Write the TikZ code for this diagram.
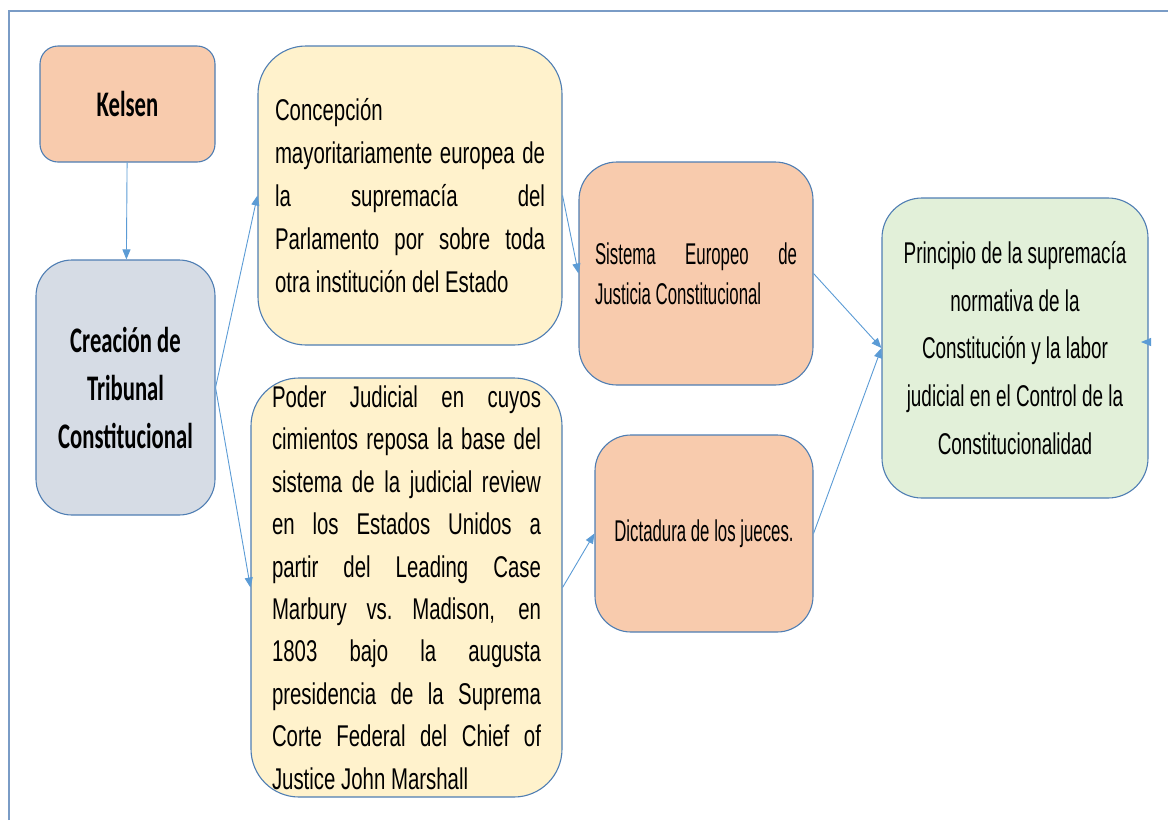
\documentclass[tikz,border=0pt]{standalone}
\usepackage{fontspec}
\usetikzlibrary{arrows.meta}

\newfontfamily\kfont[FakeStretch=0.63]{Carlito}
\newfontfamily\yfont[FakeStretch=0.68]{Liberation Sans}
\newfontfamily\ofont[FakeStretch=0.56]{Liberation Sans}
\newfontfamily\gfont[FakeStretch=0.63]{Liberation Sans}

\definecolor{peach}{HTML}{F8CBAD}
\definecolor{slate}{HTML}{D6DCE5}
\definecolor{cream}{HTML}{FFF2CC}
\definecolor{mint}{HTML}{E2F0D9}
\definecolor{edgecol}{HTML}{4F7EB3}
\definecolor{linkcol}{HTML}{5B9BD5}
\definecolor{framecol}{HTML}{7A9CC6}

\pretolerance=10000
\hbadness=10000

\begin{document}
\begin{tikzpicture}[x=1pt,y=-1pt,
  box/.style={draw=edgecol, line width=1.1pt, rectangle, inner sep=0pt, text=black},
  arr/.style={draw=linkcol, line width=0.9pt, -{Triangle[length=10pt,width=8pt]}}]
\useasboundingbox (0,0) rectangle (1168,820);
\draw[framecol, line width=1.5pt] (9,820) -- (9,11) -- (1168,11);

\node[box, fill=peach, rounded corners=18pt, minimum width=175pt, minimum height=116pt,
  font=\kfont\bfseries\fontsize{36}{48}\selectfont] (kel) at (127.5,104) {Kelsen};
\node[box, fill=slate, rounded corners=36pt, minimum width=179pt, minimum height=255pt,
  text width=179pt, align=flush center, font=\kfont\bfseries\fontsize{36}{48}\selectfont] (cre) at (125.5,387.5)
  {Creación de\\ Tribunal\\ Constitucional};

\node[box, fill=cream, rounded corners=48pt, minimum width=304pt, minimum height=299pt,
  text width=270pt, align=justify, font=\yfont\fontsize{30}{42.8}\selectfont] (con) at (410,195.5)
  {Concepción\newline mayoritariamente europea de\linebreak la supremacía del\linebreak
   Parlamento por sobre toda\linebreak otra institución del Estado};
\node[box, fill=cream, rounded corners=48pt, minimum width=311pt, minimum height=419pt,
  text width=269pt, align=justify, font=\yfont\fontsize{30}{42.4}\selectfont] (pod) at (406.5,587.5)
  {Poder Judicial en cuyos\linebreak cimientos reposa la base del\linebreak
   sistema de la judicial review\linebreak en los Estados Unidos a\linebreak
   partir del Leading Case\linebreak Marbury vs.\ Madison, en\linebreak
   1803 bajo la augusta\linebreak presidencia de la Suprema\linebreak
   Corte Federal del Chief of\linebreak Justice John Marshall};

\node[box, fill=peach, rounded corners=38pt, minimum width=234pt, minimum height=223pt,
  text width=202pt, align=justify, font=\ofont\fontsize{30}{40}\selectfont] (sis) at (696,273.5)
  {Sistema Europeo de\linebreak Justicia Constitucional};
\node[box, fill=peach, rounded corners=36pt, minimum width=218pt, minimum height=197pt,
  font=\ofont\fontsize{30}{40}\selectfont] (dic) at (704,533.5) {Dictadura de los jueces.};

\node[box, fill=mint, rounded corners=40pt, minimum width=266pt, minimum height=300pt,
  text width=250pt, align=flush center, font=\gfont\fontsize{30}{47.8}\selectfont] (pri) at (1015,348)
  {Principio de la supremacía\\ normativa de la\\ Constitución y la labor\\
   judicial en el Control de la\\ Constitucionalidad};

\draw[arr] (kel) -- (cre);
\draw[arr] (cre.east) -- (con.west);
\draw[arr] (cre.east) -- (pod.west);
\draw[arr] (con.east) -- (sis.west);
\draw[arr] (pod.east) -- (dic.west);
\draw[arr] (sis.east) -- (pri.west);
\draw[arr] (dic.east) -- (pri.west);
\coordinate (cut) at (1150,342);
\coordinate (tip) at (1141,342);
\draw[arr] (cut) -- (tip);
\end{tikzpicture}
\end{document}
